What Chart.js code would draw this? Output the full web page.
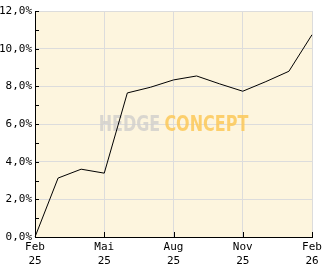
<!DOCTYPE html>
<html>
<head>
<meta charset="utf-8">
<script src="https://cdn.jsdelivr.net/npm/chart.js@4.4.1/dist/chart.umd.min.js"></script>
<style>
  html, body { margin: 0; padding: 0; background: #fff; }
  #wrap { width: 332px; height: 269px; position: relative; }
</style>
</head>
<body>
<div id="wrap"><canvas id="chart"></canvas></div>
<script>
// Data (monthly, Feb 25 .. Feb 26)
const months  = ['Feb','Mär','Apr','Mai','Jun','Jul','Aug','Sep','Okt','Nov','Dez','Jan','Feb'];
const years   = ['25','25','25','25','25','25','25','25','25','25','25','26','26'];
const perf    = [0, 3.13, 3.6, 3.39, 7.65, 7.95, 8.34, 8.55, 8.13, 7.74, 8.25, 8.8, 10.74];
const yTicks  = [0, 2, 4, 6, 8, 10, 12];

const GRID   = '#dcdcdc';
const BG     = '#fdf5de';
const FONT   = { family: '"DejaVu Sans Mono", monospace', size: 11 };

// Plot background + watermark
const plotBg = {
  id: 'plotBg',
  beforeDraw(chart) {
    const { ctx, chartArea: a } = chart;
    ctx.save();
    ctx.fillStyle = BG;
    ctx.fillRect(a.left, a.top, a.right - a.left, a.bottom - a.top);
    ctx.restore();
  },
  beforeDatasetsDraw(chart) {
    const { ctx, chartArea: a } = chart;
    const cx = (a.left + a.right) / 2, cy = (a.top + a.bottom) / 2 + 1;
    ctx.save();
    ctx.font = 'bold 26px "DejaVu Sans Condensed", "Liberation Sans Narrow", sans-serif';
    ctx.textBaseline = 'middle';
    const w1 = ctx.measureText('HEDGE').width;
    const w2 = ctx.measureText('CONCEPT').width;
    const gap = 6;
    const target = (a.right - a.left) * 0.54;
    const sx = target / (w1 + w2 + gap);
    ctx.translate(cx, cy);
    ctx.scale(sx, 0.85);
    const x0 = -(w1 + w2 + gap) / 2;
    ctx.textAlign = 'left';
    ctx.fillStyle = 'rgba(210,208,204,0.85)';
    ctx.fillText('HEDGE', x0, 0);
    ctx.fillStyle = 'rgba(252,200,88,0.85)';
    ctx.fillText('CONCEPT', x0 + w1 + gap, 0);
    ctx.restore();
  },
  afterDatasetsDraw(chart) {
    // small inner tick marks on the axes
    const { ctx, chartArea: a, scales } = chart;
    ctx.save();
    ctx.strokeStyle = '#000';
    ctx.lineWidth = 1;
    ctx.beginPath();
    for (let v = 1; v <= 12; v++) {
      const y = Math.round(scales.y.getPixelForValue(v)) + 0.5;
      ctx.moveTo(a.left, y);
      ctx.lineTo(a.left + 4, y);
    }
    months.forEach((m, i) => {
      if (i % 3 !== 0 || i === 0) return;
      const x = Math.round(scales.x.getPixelForValue(i)) + 0.5;
      ctx.moveTo(x, a.bottom);
      ctx.lineTo(x, a.bottom - 5);
    });
    ctx.stroke();
    ctx.restore();
  }
};

new Chart(document.getElementById('chart'), {
  type: 'line',
  data: {
    labels: months,
    datasets: [{
      data: perf,
      borderColor: '#000',
      borderWidth: 1,
      pointRadius: 0,
      tension: 0,
      fill: false
    }]
  },
  options: {
    responsive: true,
    maintainAspectRatio: false,
    animation: false,
    layout: { padding: { top: 11, right: 20, left: 0, bottom: 0 } },
    plugins: { legend: { display: false }, tooltip: { enabled: false } },
    scales: {
      x: {
        offset: false,
        afterFit: s => { s.height = 32; },
        border: { color: '#000', width: 1 },
        grid: {
          drawTicks: false,
          color: c => (c.index % 3 === 0 ? GRID : 'transparent')
        },
        ticks: {
          autoSkip: false,
          maxRotation: 0,
          padding: 4,
          color: '#000',
          font: FONT,
          callback: (v, i) => (i % 3 === 0 ? [months[i], years[i]] : '')
        }
      },
      y: {
        min: yTicks[0],
        max: yTicks[yTicks.length - 1],
        afterFit: s => { s.width = 35; },
        afterBuildTicks: s => { s.ticks = yTicks.map(v => ({ value: v })); },
        border: { color: '#000', width: 1 },
        grid: { drawTicks: false, color: GRID },
        ticks: {
          padding: 3,
          color: '#000',
          font: FONT,
          callback: v => v.toFixed(1).replace('.', ',') + '%'
        }
      }
    }
  },
  plugins: [plotBg]
});
</script>
</body>
</html>
